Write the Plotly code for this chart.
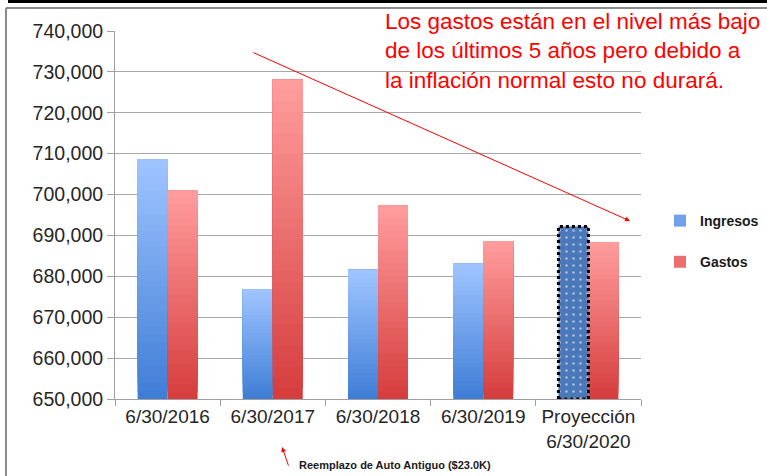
import plotly.graph_objects as go

categories = ["6/30/2016", "6/30/2017", "6/30/2018", "6/30/2019", "Proyección<br>6/30/2020"]
ingresos = [708600, 676800, 681600, 683100, 692200]
gastos = [701000, 728100, 697300, 688600, 688300]
y_ticks = [650000, 660000, 670000, 680000, 690000, 700000, 710000, 720000, 730000, 740000]
projection_index = 4

W, H = 767, 476
L, R, T, B = 115, 641, 31, 399
BASE = y_ticks[0]
N = 30
BW = 0.285
FONT = "Liberation Sans"


def px(x):
    return (x - L) / (R - L)


def py(y):
    return (B - y) / (B - T)


def lerp(c1, c2, t):
    return "rgb(%d,%d,%d)" % tuple(round(a + (b - a) * t) for a, b in zip(c1, c2))


fig = go.Figure()

series = [
    ("Ingresos", ingresos, (64, 126, 214), (158, 196, 255), -BW),
    ("Gastos", gastos, (214, 62, 62), (255, 156, 156), 0.0),
]

for name, vals, dark, light, off in series:
    use = [v if (name == "Gastos" or i != projection_index) else None for i, v in enumerate(vals)]
    for k in range(N):
        t = k / (N - 1)
        bases = [BASE + (v - BASE) * k / N if v is not None else None for v in use]
        hs = [v - b if v is not None else None for v, b in zip(use, bases)]
        fig.add_trace(go.Bar(
            x=categories, y=hs, base=bases, width=BW, offset=off,
            marker=dict(color=lerp(dark, light, t), line=dict(width=0)),
            name=name, legendgroup=name, showlegend=(k == N // 2),
            hoverinfo="skip",
        ))

# projection bar (patterned)
pv = ingresos[projection_index]
fig.add_trace(go.Bar(
    x=[categories[projection_index]], y=[pv - BASE], base=[BASE], width=BW, offset=-BW,
    marker=dict(color="#4a78b8", line=dict(width=0),
                pattern=dict(shape=".", fgcolor="white", size=7, solidity=0.12)),
    showlegend=False, hoverinfo="skip",
))

shapes = [
    dict(type="rect", xref="x", yref="y", x0=projection_index - BW, x1=projection_index,
         y0=BASE, y1=pv, line=dict(color="black", width=3, dash="dot"), fillcolor="rgba(0,0,0,0)"),
    # frame decorations
    dict(type="rect", xref="paper", yref="paper", x0=px(8), x1=px(W + 2), y0=py(0), y1=py(3),
         line=dict(width=0), fillcolor="black", layer="above"),
    dict(type="line", xref="paper", yref="paper", x0=px(6), x1=px(W + 2), y0=py(8), y1=py(8),
         line=dict(color="#8c8c8c", width=2)),
    dict(type="line", xref="paper", yref="paper", x0=px(6), x1=px(6), y0=py(8), y1=py(H + 2),
         line=dict(color="#8c8c8c", width=2)),
]

annotations = [
    dict(xref="paper", yref="paper", x=px(383), y=py(51), xanchor="left", yanchor="middle",
         align="left", showarrow=False,
         text="Los gastos están en el nivel más bajo<br>de los últimos 5 años pero debido a<br>la inflación normal esto no durará.",
         font=dict(family=FONT, size=22.5, color="#ff0000")),
    dict(xref="paper", yref="paper", x=px(630), y=py(221), ax=252 - 630, ay=52 - 221,
         showarrow=True, arrowhead=2, arrowsize=1, arrowwidth=1, arrowcolor="#ff0000", text=""),
    dict(xref="paper", yref="paper", x=px(282), y=py(447), ax=7, ay=20,
         showarrow=True, arrowhead=2, arrowsize=1, arrowwidth=1, arrowcolor="#ff0000", text=""),
    dict(xref="paper", yref="paper", x=px(297), y=py(465), xanchor="left", yanchor="middle",
         showarrow=False, text="<b>Reemplazo de Auto Antiguo ($23.0K)</b>",
         font=dict(family=FONT, size=11, color="#1a1a1a")),
]

fig.update_layout(
    width=W, height=H,
    margin=dict(l=L, r=W - R, t=T, b=H - B, pad=0, autoexpand=False),
    barmode="overlay",
    plot_bgcolor="white", paper_bgcolor="white",
    font=dict(family=FONT, color="#262626"),
    showlegend=True,
    legend=dict(x=px(660), y=py(205), xanchor="left", yanchor="top",
                font=dict(family=FONT, size=14, color="#1a1a1a", weight="bold"),
                tracegroupgap=20, traceorder="grouped", bgcolor="rgba(0,0,0,0)"),
    shapes=shapes, annotations=annotations,
    xaxis=dict(type="category", tickson="boundaries", ticks="outside", ticklen=6,
               tickcolor="#a0a0a0", showline=True, linecolor="#a0a0a0", linewidth=1,
               showgrid=False, tickfont=dict(size=19, color="#262626"), tickangle=0,
               automargin=False, range=[-0.5, len(categories) - 0.5]),
    yaxis=dict(range=[y_ticks[0], y_ticks[-1]], tickvals=y_ticks, tickformat=",d",
               ticks="outside", ticklen=7, tickcolor="#a0a0a0", showline=True,
               linecolor="#a0a0a0", linewidth=1, gridcolor="#a8a8a8", gridwidth=1,
               automargin=False, zeroline=False, tickfont=dict(size=19.5, color="#262626")),
)

fig.write_html("out.html", config={"displayModeBar": False},
               post_script="document.body.style.margin='0';document.body.style.overflow='hidden';")
